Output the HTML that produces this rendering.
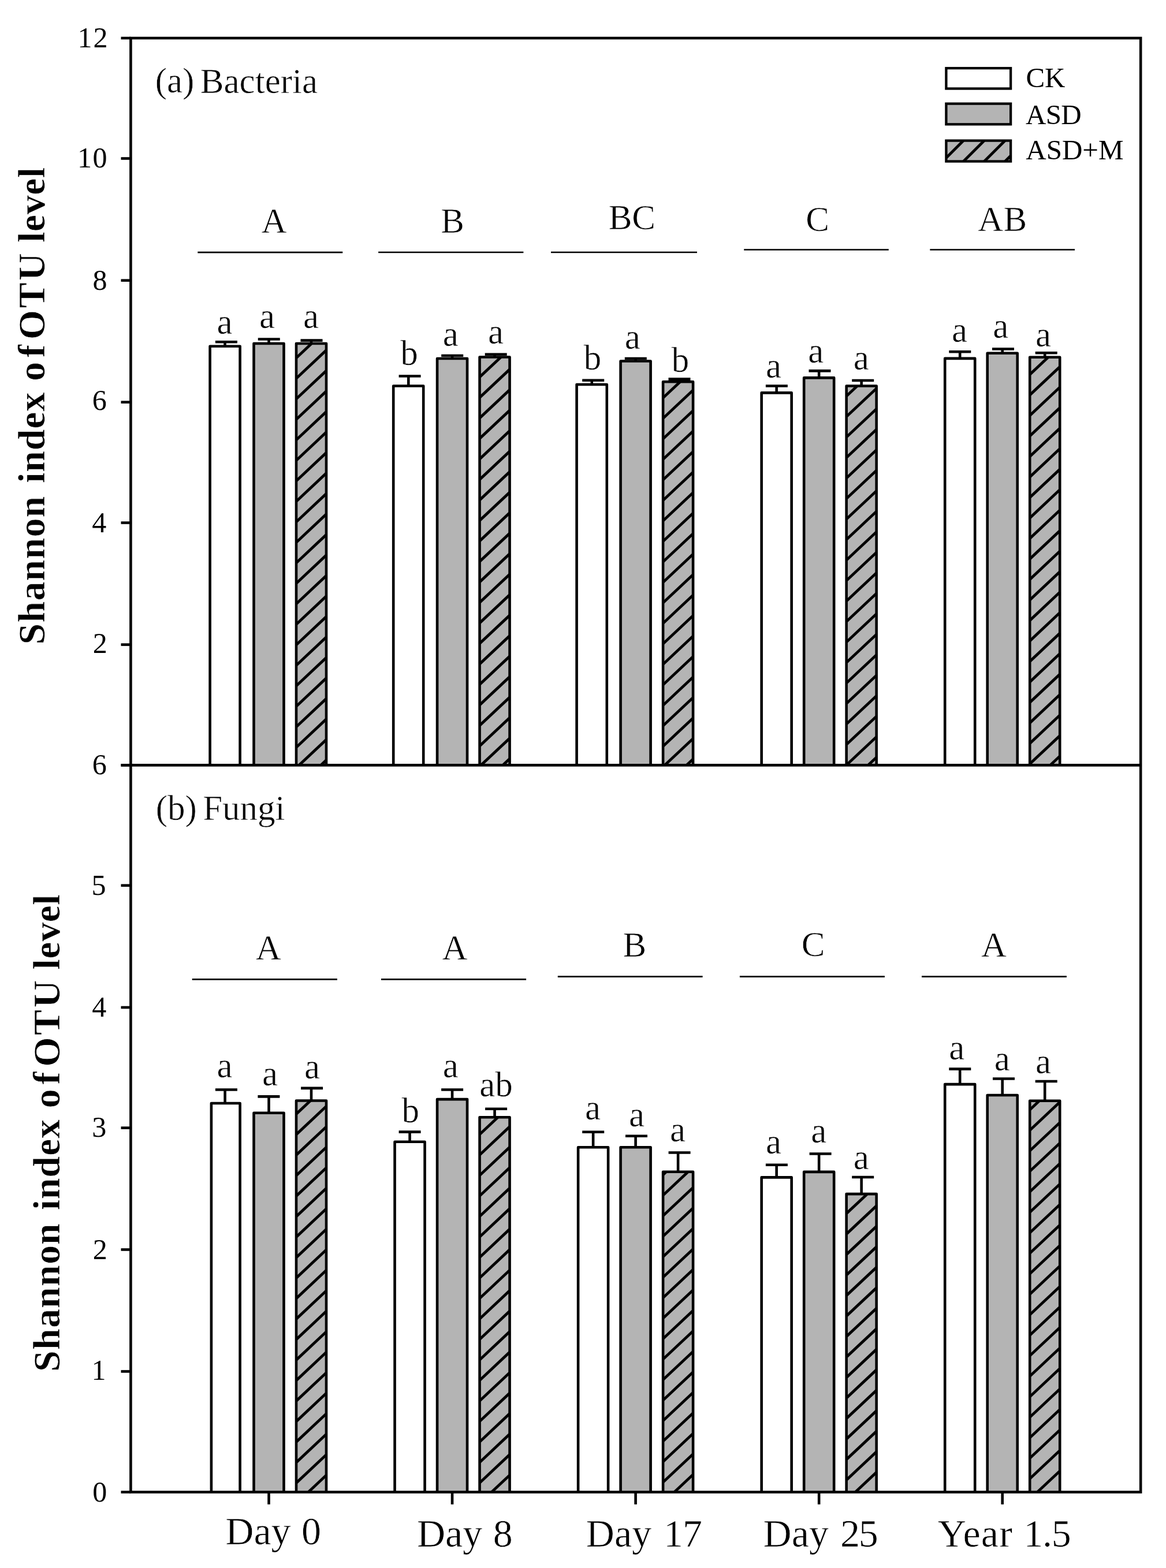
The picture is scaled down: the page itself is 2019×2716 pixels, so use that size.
<!DOCTYPE html>
<html><head><meta charset="utf-8"><title>Shannon index of OTU level</title>
<style>html,body{margin:0;padding:0;background:#fff}svg{display:block}</style></head>
<body><svg width="2019" height="2716" viewBox="0 0 2019 2716" font-family="'Liberation Serif', 'Times New Roman', serif">
<defs><clipPath id="c1"><rect x="513" y="595" width="52" height="730.4"/></clipPath><clipPath id="c2"><rect x="830.55" y="618.5" width="52" height="706.9"/></clipPath><clipPath id="c3"><rect x="1148.1" y="661.3" width="52" height="664.1"/></clipPath><clipPath id="c4"><rect x="1465.65" y="668.5" width="52" height="656.9"/></clipPath><clipPath id="c5"><rect x="1783.2" y="618.8" width="52" height="706.6"/></clipPath><clipPath id="c6"><rect x="513" y="1906.5" width="52" height="678"/></clipPath><clipPath id="c7"><rect x="830.55" y="1935.3" width="52" height="649.2"/></clipPath><clipPath id="c8"><rect x="1148.1" y="2029.8" width="52" height="554.7"/></clipPath><clipPath id="c9"><rect x="1465.65" y="2068.1" width="52" height="516.4"/></clipPath><clipPath id="c10"><rect x="1783.2" y="1906.8" width="52" height="677.7"/></clipPath><clipPath id="c11"><rect x="1638.4" y="243.6" width="111.7" height="35.9"/></clipPath></defs>
<rect width="2019" height="2716" fill="#fff"/>
<path d="M363.6 1325.4V599.7H415.6V1325.4" fill="#fff" stroke="#000" stroke-width="4.6" stroke-linejoin="round"/>
<line x1="389.5" y1="599.7" x2="389.5" y2="592.2" stroke="#000" stroke-width="4.6"/>
<line x1="372.9" y1="592.2" x2="410.9" y2="592.2" stroke="#000" stroke-width="4.6"/>
<path d="M439.5 1325.4V595H491.5V1325.4" fill="#b4b4b4" stroke="#000" stroke-width="4.6" stroke-linejoin="round"/>
<line x1="465.5" y1="595" x2="465.5" y2="587.5" stroke="#000" stroke-width="4.6"/>
<line x1="446.75" y1="587.5" x2="484.75" y2="587.5" stroke="#000" stroke-width="4.6"/>
<g><rect x="513" y="595" width="52" height="730.4" fill="#b4b4b4"/><path d="M-286.72 1335.4L512.43 585M-248.91 1335.4L550.23 585M-211.11 1335.4L588.04 585M-173.3 1335.4L625.85 585M-135.5 1335.4L663.65 585M-97.69 1335.4L701.46 585M-59.88 1335.4L739.26 585M-22.08 1335.4L777.07 585M15.73 1335.4L814.88 585M53.53 1335.4L852.68 585M91.34 1335.4L890.49 585M129.15 1335.4L928.3 585M166.95 1335.4L966.1 585M204.76 1335.4L1003.91 585M242.57 1335.4L1041.71 585M280.37 1335.4L1079.52 585M318.18 1335.4L1117.33 585M355.98 1335.4L1155.13 585M393.79 1335.4L1192.94 585M431.6 1335.4L1230.74 585M469.4 1335.4L1268.55 585M507.21 1335.4L1306.36 585M545.02 1335.4L1344.16 585" stroke="#000" stroke-width="4.8" fill="none" clip-path="url(#c1)"/></g>
<path d="M513 1325.4V595H565V1325.4" fill="none" stroke="#000" stroke-width="4.6" stroke-linejoin="round"/>
<line x1="539" y1="595" x2="539" y2="589.6" stroke="#000" stroke-width="4.6"/>
<line x1="520.5" y1="589.6" x2="558.5" y2="589.6" stroke="#000" stroke-width="4.6"/>
<path d="M681.2 1325.4V668.5H733.2V1325.4" fill="#fff" stroke="#000" stroke-width="4.6" stroke-linejoin="round"/>
<line x1="707.3" y1="668.5" x2="707.3" y2="651.5" stroke="#000" stroke-width="4.6"/>
<line x1="690.6" y1="651.5" x2="728.6" y2="651.5" stroke="#000" stroke-width="4.6"/>
<path d="M757.05 1325.4V621H809.05V1325.4" fill="#b4b4b4" stroke="#000" stroke-width="4.6" stroke-linejoin="round"/>
<line x1="783.05" y1="621" x2="783.05" y2="616" stroke="#000" stroke-width="4.6"/>
<line x1="764.2" y1="616" x2="802.2" y2="616" stroke="#000" stroke-width="4.6"/>
<g><rect x="830.55" y="618.5" width="52" height="706.9" fill="#b4b4b4"/><path d="M28.33 1335.4L802.45 608.5M66.14 1335.4L840.26 608.5M103.94 1335.4L878.06 608.5M141.75 1335.4L915.87 608.5M179.55 1335.4L953.68 608.5M217.36 1335.4L991.48 608.5M255.17 1335.4L1029.29 608.5M292.97 1335.4L1067.09 608.5M330.78 1335.4L1104.9 608.5M368.59 1335.4L1142.71 608.5M406.39 1335.4L1180.51 608.5M444.2 1335.4L1218.32 608.5M482 1335.4L1256.13 608.5M519.81 1335.4L1293.93 608.5M557.62 1335.4L1331.74 608.5M595.42 1335.4L1369.54 608.5M633.23 1335.4L1407.35 608.5M671.03 1335.4L1445.16 608.5M708.84 1335.4L1482.96 608.5M746.65 1335.4L1520.77 608.5M784.45 1335.4L1558.57 608.5M822.26 1335.4L1596.38 608.5M860.07 1335.4L1634.19 608.5" stroke="#000" stroke-width="4.8" fill="none" clip-path="url(#c2)"/></g>
<path d="M830.55 1325.4V618.5H882.55V1325.4" fill="none" stroke="#000" stroke-width="4.6" stroke-linejoin="round"/>
<line x1="856.55" y1="618.5" x2="856.55" y2="613.7" stroke="#000" stroke-width="4.6"/>
<line x1="839.7" y1="613.7" x2="877.7" y2="613.7" stroke="#000" stroke-width="4.6"/>
<path d="M998.6 1325.4V666H1050.8V1325.4" fill="#fff" stroke="#000" stroke-width="4.6" stroke-linejoin="round"/>
<line x1="1024.8" y1="666" x2="1024.8" y2="658.7" stroke="#000" stroke-width="4.6"/>
<line x1="1008.2" y1="658.7" x2="1046.2" y2="658.7" stroke="#000" stroke-width="4.6"/>
<path d="M1074.6 1325.4V625.5H1126.6V1325.4" fill="#b4b4b4" stroke="#000" stroke-width="4.6" stroke-linejoin="round"/>
<line x1="1100.6" y1="625.5" x2="1100.6" y2="621" stroke="#000" stroke-width="4.6"/>
<line x1="1081.8" y1="621" x2="1119.8" y2="621" stroke="#000" stroke-width="4.6"/>
<g><rect x="1148.1" y="661.3" width="52" height="664.1" fill="#b4b4b4"/><path d="M384.26 1335.4L1112.8 651.3M422.07 1335.4L1150.61 651.3M459.87 1335.4L1188.42 651.3M497.68 1335.4L1226.22 651.3M535.49 1335.4L1264.03 651.3M573.29 1335.4L1301.83 651.3M611.1 1335.4L1339.64 651.3M648.91 1335.4L1377.45 651.3M686.71 1335.4L1415.25 651.3M724.52 1335.4L1453.06 651.3M762.32 1335.4L1490.86 651.3M800.13 1335.4L1528.67 651.3M837.94 1335.4L1566.48 651.3M875.74 1335.4L1604.28 651.3M913.55 1335.4L1642.09 651.3M951.35 1335.4L1679.9 651.3M989.16 1335.4L1717.7 651.3M1026.97 1335.4L1755.51 651.3M1064.77 1335.4L1793.31 651.3M1102.58 1335.4L1831.12 651.3M1140.39 1335.4L1868.93 651.3M1178.19 1335.4L1906.73 651.3" stroke="#000" stroke-width="4.8" fill="none" clip-path="url(#c3)"/></g>
<path d="M1148.1 1325.4V661.3H1200.1V1325.4" fill="none" stroke="#000" stroke-width="4.6" stroke-linejoin="round"/>
<line x1="1174.1" y1="661.3" x2="1174.1" y2="656.6" stroke="#000" stroke-width="4.6"/>
<line x1="1157.5" y1="656.6" x2="1195.5" y2="656.6" stroke="#000" stroke-width="4.6"/>
<path d="M1318.65 1325.4V680.4H1370.65V1325.4" fill="#fff" stroke="#000" stroke-width="4.6" stroke-linejoin="round"/>
<line x1="1344.65" y1="680.4" x2="1344.65" y2="668.5" stroke="#000" stroke-width="4.6"/>
<line x1="1325.9" y1="668.5" x2="1363.9" y2="668.5" stroke="#000" stroke-width="4.6"/>
<path d="M1392.15 1325.4V654.4H1444.15V1325.4" fill="#b4b4b4" stroke="#000" stroke-width="4.6" stroke-linejoin="round"/>
<line x1="1418.15" y1="654.4" x2="1418.15" y2="642.4" stroke="#000" stroke-width="4.6"/>
<line x1="1400.5" y1="642.4" x2="1438.5" y2="642.4" stroke="#000" stroke-width="4.6"/>
<g><rect x="1465.65" y="668.5" width="52" height="656.9" fill="#b4b4b4"/><path d="M736.39 1335.4L1457.27 658.5M774.2 1335.4L1495.07 658.5M812.01 1335.4L1532.88 658.5M849.81 1335.4L1570.68 658.5M887.62 1335.4L1608.49 658.5M925.42 1335.4L1646.3 658.5M963.23 1335.4L1684.1 658.5M1001.04 1335.4L1721.91 658.5M1038.84 1335.4L1759.72 658.5M1076.65 1335.4L1797.52 658.5M1114.45 1335.4L1835.33 658.5M1152.26 1335.4L1873.13 658.5M1190.07 1335.4L1910.94 658.5M1227.87 1335.4L1948.75 658.5M1265.68 1335.4L1986.55 658.5M1303.49 1335.4L2024.36 658.5M1341.29 1335.4L2062.16 658.5M1379.1 1335.4L2099.97 658.5M1416.9 1335.4L2137.78 658.5M1454.71 1335.4L2175.58 658.5M1492.52 1335.4L2213.39 658.5" stroke="#000" stroke-width="4.8" fill="none" clip-path="url(#c4)"/></g>
<path d="M1465.65 1325.4V668.5H1517.65V1325.4" fill="none" stroke="#000" stroke-width="4.6" stroke-linejoin="round"/>
<line x1="1491.65" y1="668.5" x2="1491.65" y2="659" stroke="#000" stroke-width="4.6"/>
<line x1="1475.2" y1="659" x2="1513.2" y2="659" stroke="#000" stroke-width="4.6"/>
<path d="M1636.2 1325.4V620.9H1688.2V1325.4" fill="#fff" stroke="#000" stroke-width="4.6" stroke-linejoin="round"/>
<line x1="1662.2" y1="620.9" x2="1662.2" y2="609.2" stroke="#000" stroke-width="4.6"/>
<line x1="1643.3" y1="609.2" x2="1681.3" y2="609.2" stroke="#000" stroke-width="4.6"/>
<path d="M1709.7 1325.4V611.8H1761.7V1325.4" fill="#b4b4b4" stroke="#000" stroke-width="4.6" stroke-linejoin="round"/>
<line x1="1735.7" y1="611.8" x2="1735.7" y2="604.5" stroke="#000" stroke-width="4.6"/>
<line x1="1718" y1="604.5" x2="1756" y2="604.5" stroke="#000" stroke-width="4.6"/>
<g><rect x="1783.2" y="618.8" width="52" height="706.6" fill="#b4b4b4"/><path d="M976.24 1335.4L1750.04 608.8M1014.04 1335.4L1787.85 608.8M1051.85 1335.4L1825.65 608.8M1089.66 1335.4L1863.46 608.8M1127.46 1335.4L1901.26 608.8M1165.27 1335.4L1939.07 608.8M1203.07 1335.4L1976.88 608.8M1240.88 1335.4L2014.68 608.8M1278.69 1335.4L2052.49 608.8M1316.49 1335.4L2090.29 608.8M1354.3 1335.4L2128.1 608.8M1392.11 1335.4L2165.91 608.8M1429.91 1335.4L2203.71 608.8M1467.72 1335.4L2241.52 608.8M1505.52 1335.4L2279.33 608.8M1543.33 1335.4L2317.13 608.8M1581.14 1335.4L2354.94 608.8M1618.94 1335.4L2392.74 608.8M1656.75 1335.4L2430.55 608.8M1694.55 1335.4L2468.36 608.8M1732.36 1335.4L2506.16 608.8M1770.17 1335.4L2543.97 608.8M1807.97 1335.4L2581.78 608.8" stroke="#000" stroke-width="4.8" fill="none" clip-path="url(#c5)"/></g>
<path d="M1783.2 1325.4V618.8H1835.2V1325.4" fill="none" stroke="#000" stroke-width="4.6" stroke-linejoin="round"/>
<line x1="1809.2" y1="618.8" x2="1809.2" y2="611.3" stroke="#000" stroke-width="4.6"/>
<line x1="1792.7" y1="611.3" x2="1830.7" y2="611.3" stroke="#000" stroke-width="4.6"/>
<path d="M365.9 2584.5V1911H415.6V2584.5" fill="#fff" stroke="#000" stroke-width="4.6" stroke-linejoin="round"/>
<line x1="389.6" y1="1911" x2="389.6" y2="1887.5" stroke="#000" stroke-width="4.6"/>
<line x1="372.9" y1="1887.5" x2="410.9" y2="1887.5" stroke="#000" stroke-width="4.6"/>
<path d="M439.5 2584.5V1927.7H491.5V2584.5" fill="#b4b4b4" stroke="#000" stroke-width="4.6" stroke-linejoin="round"/>
<line x1="465.5" y1="1927.7" x2="465.5" y2="1899.4" stroke="#000" stroke-width="4.6"/>
<line x1="446.4" y1="1899.4" x2="484.4" y2="1899.4" stroke="#000" stroke-width="4.6"/>
<g><rect x="513" y="1906.5" width="52" height="678" fill="#b4b4b4"/><path d="M-232.85 2594.5L510.5 1896.5M-195.04 2594.5L548.3 1896.5M-157.23 2594.5L586.11 1896.5M-119.43 2594.5L623.92 1896.5M-81.62 2594.5L661.72 1896.5M-43.82 2594.5L699.53 1896.5M-6.01 2594.5L737.33 1896.5M31.8 2594.5L775.14 1896.5M69.6 2594.5L812.95 1896.5M107.41 2594.5L850.75 1896.5M145.22 2594.5L888.56 1896.5M183.02 2594.5L926.37 1896.5M220.83 2594.5L964.17 1896.5M258.63 2594.5L1001.98 1896.5M296.44 2594.5L1039.78 1896.5M334.25 2594.5L1077.59 1896.5M372.05 2594.5L1115.4 1896.5M409.86 2594.5L1153.2 1896.5M447.66 2594.5L1191.01 1896.5M485.47 2594.5L1228.81 1896.5M523.28 2594.5L1266.62 1896.5M561.08 2594.5L1304.43 1896.5" stroke="#000" stroke-width="4.8" fill="none" clip-path="url(#c6)"/></g>
<path d="M513 2584.5V1906.5H565V2584.5" fill="none" stroke="#000" stroke-width="4.6" stroke-linejoin="round"/>
<line x1="539" y1="1906.5" x2="539" y2="1884.9" stroke="#000" stroke-width="4.6"/>
<line x1="521.1" y1="1884.9" x2="559.1" y2="1884.9" stroke="#000" stroke-width="4.6"/>
<path d="M683.55 2584.5V1977.8H735.55V2584.5" fill="#fff" stroke="#000" stroke-width="4.6" stroke-linejoin="round"/>
<line x1="709.55" y1="1977.8" x2="709.55" y2="1960.6" stroke="#000" stroke-width="4.6"/>
<line x1="690.6" y1="1960.6" x2="728.6" y2="1960.6" stroke="#000" stroke-width="4.6"/>
<path d="M757.05 2584.5V1904.1H809.05V2584.5" fill="#b4b4b4" stroke="#000" stroke-width="4.6" stroke-linejoin="round"/>
<line x1="783.05" y1="1904.1" x2="783.05" y2="1887.5" stroke="#000" stroke-width="4.6"/>
<line x1="764.1" y1="1887.5" x2="802.1" y2="1887.5" stroke="#000" stroke-width="4.6"/>
<g><rect x="830.55" y="1935.3" width="52" height="649.2" fill="#b4b4b4"/><path d="M84.45 2594.5L797.13 1925.3M122.26 2594.5L834.93 1925.3M160.07 2594.5L872.74 1925.3M197.87 2594.5L910.54 1925.3M235.68 2594.5L948.35 1925.3M273.48 2594.5L986.16 1925.3M311.29 2594.5L1023.96 1925.3M349.1 2594.5L1061.77 1925.3M386.9 2594.5L1099.58 1925.3M424.71 2594.5L1137.38 1925.3M462.52 2594.5L1175.19 1925.3M500.32 2594.5L1212.99 1925.3M538.13 2594.5L1250.8 1925.3M575.93 2594.5L1288.61 1925.3M613.74 2594.5L1326.41 1925.3M651.55 2594.5L1364.22 1925.3M689.35 2594.5L1402.03 1925.3M727.16 2594.5L1439.83 1925.3M764.96 2594.5L1477.64 1925.3M802.77 2594.5L1515.44 1925.3M840.58 2594.5L1553.25 1925.3M878.38 2594.5L1591.06 1925.3" stroke="#000" stroke-width="4.8" fill="none" clip-path="url(#c7)"/></g>
<path d="M830.55 2584.5V1935.3H882.55V2584.5" fill="none" stroke="#000" stroke-width="4.6" stroke-linejoin="round"/>
<line x1="856.55" y1="1935.3" x2="856.55" y2="1920.7" stroke="#000" stroke-width="4.6"/>
<line x1="840.1" y1="1920.7" x2="878.1" y2="1920.7" stroke="#000" stroke-width="4.6"/>
<path d="M1001.1 2584.5V1987.2H1053.1V2584.5" fill="#fff" stroke="#000" stroke-width="4.6" stroke-linejoin="round"/>
<line x1="1027.1" y1="1987.2" x2="1027.1" y2="1960.7" stroke="#000" stroke-width="4.6"/>
<line x1="1008.2" y1="1960.7" x2="1046.2" y2="1960.7" stroke="#000" stroke-width="4.6"/>
<path d="M1074.6 2584.5V1987.2H1126.6V2584.5" fill="#b4b4b4" stroke="#000" stroke-width="4.6" stroke-linejoin="round"/>
<line x1="1100.6" y1="1987.2" x2="1100.6" y2="1967.8" stroke="#000" stroke-width="4.6"/>
<line x1="1083" y1="1967.8" x2="1121" y2="1967.8" stroke="#000" stroke-width="4.6"/>
<g><rect x="1148.1" y="2029.8" width="52" height="554.7" fill="#b4b4b4"/><path d="M514.38 2594.5L1126.42 2019.8M552.19 2594.5L1164.22 2019.8M590 2594.5L1202.03 2019.8M627.8 2594.5L1239.84 2019.8M665.61 2594.5L1277.64 2019.8M703.41 2594.5L1315.45 2019.8M741.22 2594.5L1353.25 2019.8M779.03 2594.5L1391.06 2019.8M816.83 2594.5L1428.87 2019.8M854.64 2594.5L1466.67 2019.8M892.44 2594.5L1504.48 2019.8M930.25 2594.5L1542.28 2019.8M968.06 2594.5L1580.09 2019.8M1005.86 2594.5L1617.9 2019.8M1043.67 2594.5L1655.7 2019.8M1081.48 2594.5L1693.51 2019.8M1119.28 2594.5L1731.32 2019.8M1157.09 2594.5L1769.12 2019.8M1194.89 2594.5L1806.93 2019.8" stroke="#000" stroke-width="4.8" fill="none" clip-path="url(#c8)"/></g>
<path d="M1148.1 2584.5V2029.8H1200.1V2584.5" fill="none" stroke="#000" stroke-width="4.6" stroke-linejoin="round"/>
<line x1="1174.1" y1="2029.8" x2="1174.1" y2="1996.5" stroke="#000" stroke-width="4.6"/>
<line x1="1157.6" y1="1996.5" x2="1195.6" y2="1996.5" stroke="#000" stroke-width="4.6"/>
<path d="M1318.65 2584.5V2039.4H1370.65V2584.5" fill="#fff" stroke="#000" stroke-width="4.6" stroke-linejoin="round"/>
<line x1="1344.65" y1="2039.4" x2="1344.65" y2="2017.8" stroke="#000" stroke-width="4.6"/>
<line x1="1325.9" y1="2017.8" x2="1363.9" y2="2017.8" stroke="#000" stroke-width="4.6"/>
<path d="M1392.15 2584.5V2029.9H1444.15V2584.5" fill="#b4b4b4" stroke="#000" stroke-width="4.6" stroke-linejoin="round"/>
<line x1="1418.15" y1="2029.9" x2="1418.15" y2="1998.5" stroke="#000" stroke-width="4.6"/>
<line x1="1401.6" y1="1998.5" x2="1439.6" y2="1998.5" stroke="#000" stroke-width="4.6"/>
<g><rect x="1465.65" y="2068.1" width="52" height="516.4" fill="#b4b4b4"/><path d="M865.56 2594.5L1436.81 2058.1M903.37 2594.5L1474.61 2058.1M941.17 2594.5L1512.42 2058.1M978.98 2594.5L1550.22 2058.1M1016.78 2594.5L1588.03 2058.1M1054.59 2594.5L1625.84 2058.1M1092.4 2594.5L1663.64 2058.1M1130.2 2594.5L1701.45 2058.1M1168.01 2594.5L1739.26 2058.1M1205.82 2594.5L1777.06 2058.1M1243.62 2594.5L1814.87 2058.1M1281.43 2594.5L1852.67 2058.1M1319.23 2594.5L1890.48 2058.1M1357.04 2594.5L1928.29 2058.1M1394.85 2594.5L1966.09 2058.1M1432.65 2594.5L2003.9 2058.1M1470.46 2594.5L2041.7 2058.1M1508.26 2594.5L2079.51 2058.1" stroke="#000" stroke-width="4.8" fill="none" clip-path="url(#c9)"/></g>
<path d="M1465.65 2584.5V2068.1H1517.65V2584.5" fill="none" stroke="#000" stroke-width="4.6" stroke-linejoin="round"/>
<line x1="1491.65" y1="2068.1" x2="1491.65" y2="2039" stroke="#000" stroke-width="4.6"/>
<line x1="1475.2" y1="2039" x2="1513.2" y2="2039" stroke="#000" stroke-width="4.6"/>
<path d="M1636.2 2584.5V1878.1H1688.2V2584.5" fill="#fff" stroke="#000" stroke-width="4.6" stroke-linejoin="round"/>
<line x1="1662.2" y1="1878.1" x2="1662.2" y2="1851.6" stroke="#000" stroke-width="4.6"/>
<line x1="1643.3" y1="1851.6" x2="1681.3" y2="1851.6" stroke="#000" stroke-width="4.6"/>
<path d="M1709.7 2584.5V1897H1761.7V2584.5" fill="#b4b4b4" stroke="#000" stroke-width="4.6" stroke-linejoin="round"/>
<line x1="1735.7" y1="1897" x2="1735.7" y2="1868.5" stroke="#000" stroke-width="4.6"/>
<line x1="1719" y1="1868.5" x2="1757" y2="1868.5" stroke="#000" stroke-width="4.6"/>
<g><rect x="1783.2" y="1906.8" width="52" height="677.7" fill="#b4b4b4"/><path d="M1029.49 2594.5L1772.51 1896.8M1067.29 2594.5L1810.32 1896.8M1105.1 2594.5L1848.12 1896.8M1142.9 2594.5L1885.93 1896.8M1180.71 2594.5L1923.73 1896.8M1218.52 2594.5L1961.54 1896.8M1256.32 2594.5L1999.35 1896.8M1294.13 2594.5L2037.15 1896.8M1331.94 2594.5L2074.96 1896.8M1369.74 2594.5L2112.77 1896.8M1407.55 2594.5L2150.57 1896.8M1445.35 2594.5L2188.38 1896.8M1483.16 2594.5L2226.18 1896.8M1520.97 2594.5L2263.99 1896.8M1558.77 2594.5L2301.8 1896.8M1596.58 2594.5L2339.6 1896.8M1634.38 2594.5L2377.41 1896.8M1672.19 2594.5L2415.22 1896.8M1710 2594.5L2453.02 1896.8M1747.8 2594.5L2490.83 1896.8M1785.61 2594.5L2528.63 1896.8M1823.42 2594.5L2566.44 1896.8" stroke="#000" stroke-width="4.8" fill="none" clip-path="url(#c10)"/></g>
<path d="M1783.2 2584.5V1906.8H1835.2V2584.5" fill="none" stroke="#000" stroke-width="4.6" stroke-linejoin="round"/>
<line x1="1809.2" y1="1906.8" x2="1809.2" y2="1873" stroke="#000" stroke-width="4.6"/>
<line x1="1792.7" y1="1873" x2="1830.7" y2="1873" stroke="#000" stroke-width="4.6"/>
<rect x="226.4" y="66" width="1748.75" height="2518.5" fill="none" stroke="#000" stroke-width="4.6"/>
<line x1="226.4" y1="1325.4" x2="1975.15" y2="1325.4" stroke="#000" stroke-width="4.6"/>
<line x1="209.5" y1="66" x2="226.4" y2="66" stroke="#000" stroke-width="4.6"/>
<line x1="209.5" y1="274.5" x2="226.4" y2="274.5" stroke="#000" stroke-width="4.6"/>
<line x1="209.5" y1="485.7" x2="226.4" y2="485.7" stroke="#000" stroke-width="4.6"/>
<line x1="209.5" y1="696.6" x2="226.4" y2="696.6" stroke="#000" stroke-width="4.6"/>
<line x1="209.5" y1="905.5" x2="226.4" y2="905.5" stroke="#000" stroke-width="4.6"/>
<line x1="209.5" y1="1116.6" x2="226.4" y2="1116.6" stroke="#000" stroke-width="4.6"/>
<line x1="209.5" y1="1325.4" x2="226.4" y2="1325.4" stroke="#000" stroke-width="4.6"/>
<line x1="209.5" y1="1325.4" x2="226.4" y2="1325.4" stroke="#000" stroke-width="4.6"/>
<line x1="209.5" y1="1533.7" x2="226.4" y2="1533.7" stroke="#000" stroke-width="4.6"/>
<line x1="209.5" y1="1745" x2="226.4" y2="1745" stroke="#000" stroke-width="4.6"/>
<line x1="209.5" y1="1953.6" x2="226.4" y2="1953.6" stroke="#000" stroke-width="4.6"/>
<line x1="209.5" y1="2164.5" x2="226.4" y2="2164.5" stroke="#000" stroke-width="4.6"/>
<line x1="209.5" y1="2375.5" x2="226.4" y2="2375.5" stroke="#000" stroke-width="4.6"/>
<line x1="209.5" y1="2584.5" x2="226.4" y2="2584.5" stroke="#000" stroke-width="4.6"/>
<line x1="465.5" y1="2584.5" x2="465.5" y2="2605.8" stroke="#000" stroke-width="4.6"/>
<line x1="783.05" y1="2584.5" x2="783.05" y2="2605.8" stroke="#000" stroke-width="4.6"/>
<line x1="1100.6" y1="2584.5" x2="1100.6" y2="2605.8" stroke="#000" stroke-width="4.6"/>
<line x1="1418.15" y1="2584.5" x2="1418.15" y2="2605.8" stroke="#000" stroke-width="4.6"/>
<line x1="1735.7" y1="2584.5" x2="1735.7" y2="2605.8" stroke="#000" stroke-width="4.6"/>
<line x1="342.3" y1="437.2" x2="593.3" y2="437.2" stroke="#000" stroke-width="2.7"/>
<line x1="655.1" y1="437" x2="906.4" y2="437" stroke="#000" stroke-width="2.7"/>
<line x1="954" y1="437" x2="1207" y2="437" stroke="#000" stroke-width="2.7"/>
<line x1="1288.2" y1="432.5" x2="1538.8" y2="432.5" stroke="#000" stroke-width="2.7"/>
<line x1="1610.3" y1="432.5" x2="1861.1" y2="432.5" stroke="#000" stroke-width="2.7"/>
<line x1="332.7" y1="1696.3" x2="583.9" y2="1696.3" stroke="#000" stroke-width="2.7"/>
<line x1="660" y1="1696.3" x2="911.1" y2="1696.3" stroke="#000" stroke-width="2.7"/>
<line x1="965.8" y1="1691.7" x2="1216.6" y2="1691.7" stroke="#000" stroke-width="2.7"/>
<line x1="1280.9" y1="1691.7" x2="1531.9" y2="1691.7" stroke="#000" stroke-width="2.7"/>
<line x1="1596" y1="1691.7" x2="1846.9" y2="1691.7" stroke="#000" stroke-width="2.7"/>
<rect x="1638.4" y="118.1" width="111.7" height="35.4" fill="#fff" stroke="#000" stroke-width="4.3"/>
<rect x="1638.4" y="179.6" width="111.7" height="35.7" fill="#b4b4b4" stroke="#000" stroke-width="4.3"/>
<g><rect x="1638.4" y="243.6" width="111.7" height="35.9" fill="#b4b4b4"/><path d="M1550.3 289.5L1606.2 233.6M1586.3 289.5L1642.2 233.6M1622.3 289.5L1678.2 233.6M1658.3 289.5L1714.2 233.6M1694.3 289.5L1750.2 233.6M1730.3 289.5L1786.2 233.6" stroke="#000" stroke-width="4.8" fill="none" clip-path="url(#c11)"/></g>
<rect x="1638.4" y="243.6" width="111.7" height="35.9" fill="none" stroke="#000" stroke-width="4.3"/>
<text x="375.6" y="577.85" font-size="61" stroke="#fff" stroke-width="0.6">a</text>
<text x="449" y="568.4" font-size="61" stroke="#fff" stroke-width="0.6">a</text>
<text x="525" y="568.4" font-size="61" stroke="#fff" stroke-width="0.6">a</text>
<text x="693.2" y="632.35" font-size="61" stroke="#fff" stroke-width="0.6">b</text>
<text x="766.65" y="599.4" font-size="61" stroke="#fff" stroke-width="0.6">a</text>
<text x="845" y="594.55" font-size="61" stroke="#fff" stroke-width="0.6">a</text>
<text x="1010.85" y="639.55" font-size="61" stroke="#fff" stroke-width="0.6">b</text>
<text x="1081.85" y="604.05" font-size="61" stroke="#fff" stroke-width="0.6">a</text>
<text x="1162.75" y="644.45" font-size="61" stroke="#fff" stroke-width="0.6">b</text>
<text x="1325.95" y="653.8" font-size="61" stroke="#fff" stroke-width="0.6">a</text>
<text x="1399.3" y="627.65" font-size="61" stroke="#fff" stroke-width="0.6">a</text>
<text x="1477.75" y="639.6" font-size="61" stroke="#fff" stroke-width="0.6">a</text>
<text x="1647.95" y="592.3" font-size="61" stroke="#fff" stroke-width="0.6">a</text>
<text x="1719.3" y="585.2" font-size="61" stroke="#fff" stroke-width="0.6">a</text>
<text x="1793.05" y="599.65" font-size="61" stroke="#fff" stroke-width="0.6">a</text>
<text x="375.6" y="1865.5" font-size="61" stroke="#fff" stroke-width="0.6">a</text>
<text x="454.05" y="1880" font-size="61" stroke="#fff" stroke-width="0.6">a</text>
<text x="527.1" y="1868.2" font-size="61" stroke="#fff" stroke-width="0.6">a</text>
<text x="695.55" y="1943.6" font-size="61" stroke="#fff" stroke-width="0.6">b</text>
<text x="766.65" y="1865.5" font-size="61" stroke="#fff" stroke-width="0.6">a</text>
<text x="830.3" y="1898.8" font-size="61" stroke="#fff" stroke-width="0.6">ab</text>
<text x="1012.95" y="1939.35" font-size="61" stroke="#fff" stroke-width="0.6">a</text>
<text x="1089" y="1951.2" font-size="61" stroke="#fff" stroke-width="0.6">a</text>
<text x="1160" y="1977.1" font-size="61" stroke="#fff" stroke-width="0.6">a</text>
<text x="1325.95" y="1998.45" font-size="61" stroke="#fff" stroke-width="0.6">a</text>
<text x="1404.25" y="1979.35" font-size="61" stroke="#fff" stroke-width="0.6">a</text>
<text x="1477.75" y="2024.6" font-size="61" stroke="#fff" stroke-width="0.6">a</text>
<text x="1643.3" y="1835" font-size="61" stroke="#fff" stroke-width="0.6">a</text>
<text x="1721.85" y="1853.9" font-size="61" stroke="#fff" stroke-width="0.6">a</text>
<text x="1793.05" y="1858.6" font-size="61" stroke="#fff" stroke-width="0.6">a</text>
<text x="452.6" y="402.5" font-size="61" textLength="43.26" lengthAdjust="spacing" stroke="#fff" stroke-width="0.6">A</text>
<text x="763.2" y="402.6" font-size="61" textLength="37.89" lengthAdjust="spacing" stroke="#fff" stroke-width="0.6">B</text>
<text x="1053.65" y="397.2" font-size="61" stroke="#fff" stroke-width="0.6">BC</text>
<text x="1395.15" y="399.65" font-size="61" stroke="#fff" stroke-width="0.6">C</text>
<text x="1693.35" y="400.15" font-size="61" stroke="#fff" stroke-width="0.6">AB</text>
<text x="442.85" y="1661.8" font-size="61" stroke="#fff" stroke-width="0.6">A</text>
<text x="765.4" y="1661.8" font-size="61" stroke="#fff" stroke-width="0.6">A</text>
<text x="1078.45" y="1656.6" font-size="61" textLength="38.59" lengthAdjust="spacing" stroke="#fff" stroke-width="0.6">B</text>
<text x="1387.65" y="1656.45" font-size="61" textLength="41.99" lengthAdjust="spacing" stroke="#fff" stroke-width="0.6">C</text>
<text x="1699.05" y="1656.9" font-size="61" stroke="#fff" stroke-width="0.6">A</text>
<text x="268.65" y="159.9" font-size="61" stroke="#fff" stroke-width="0.6">(a)</text>
<text x="346.85" y="160.8" font-size="61" stroke="#fff" stroke-width="0.6">Bacteria</text>
<text x="269.7" y="1419.5" font-size="61" stroke="#fff" stroke-width="0.6">(b)</text>
<text x="351.2" y="1419.9" font-size="61" stroke="#fff" stroke-width="0.6">Fungi</text>
<text x="390.3" y="2674.6" font-size="68" stroke="#fff" stroke-width="0.6">Day</text>
<text x="521.9" y="2674.6" font-size="68" stroke="#fff" stroke-width="0.6">0</text>
<text x="721.9" y="2678.8" font-size="68" stroke="#fff" stroke-width="0.6">Day</text>
<text x="853.8" y="2678.8" font-size="68" stroke="#fff" stroke-width="0.6">8</text>
<text x="1014.85" y="2679" font-size="68" stroke="#fff" stroke-width="0.6">Day</text>
<text x="1149.1" y="2679" font-size="68" textLength="67" lengthAdjust="spacing" stroke="#fff" stroke-width="0.6">17</text>
<text x="1321.6" y="2679" font-size="68" stroke="#fff" stroke-width="0.6">Day</text>
<text x="1455" y="2679" font-size="68" textLength="65.8" lengthAdjust="spacing" stroke="#fff" stroke-width="0.6">25</text>
<text x="1623.85" y="2679" font-size="68" textLength="129.01" lengthAdjust="spacing" stroke="#fff" stroke-width="0.6">Year</text>
<text x="1772.25" y="2679" font-size="68" textLength="82.5" lengthAdjust="spacing" stroke="#fff" stroke-width="0.6">1.5</text>
<text x="1776.45" y="150.5" font-size="49">CK</text>
<text x="1776.05" y="214.65" font-size="49" textLength="96.53" lengthAdjust="spacing">ASD</text>
<text x="1776.3" y="276.45" font-size="49">ASD+M</text>
<text x="134.4" y="82.25" font-size="50" textLength="52" lengthAdjust="spacing">12</text>
<text x="134" y="290.4" font-size="50" textLength="51.6" lengthAdjust="spacing">10</text>
<text x="160.45" y="501.55" font-size="50">8</text>
<text x="159.85" y="710.45" font-size="50">6</text>
<text x="159.3" y="921.85" font-size="50">4</text>
<text x="160.85" y="1130.55" font-size="50">2</text>
<text x="159.85" y="1340.95" font-size="50">6</text>
<text x="158.55" y="1549.7" font-size="50">5</text>
<text x="159.3" y="1761.25" font-size="50">4</text>
<text x="159.15" y="1969.45" font-size="50">3</text>
<text x="160.85" y="2181" font-size="50">2</text>
<text x="158.55" y="2389.65" font-size="50">1</text>
<text x="160.35" y="2600.55" font-size="50">0</text>
<text x="76.7" y="419.95" font-size="66" font-weight="bold" textLength="130.17" lengthAdjust="spacing" transform="rotate(-90 76.7 419.95)" stroke="#fff" stroke-width="0.6">level</text>
<text x="76.7" y="588.3" font-size="66" font-weight="bold" textLength="150.03" lengthAdjust="spacing" transform="rotate(-90 76.7 588.3)" stroke="#fff" stroke-width="0.6">OTU</text>
<text x="76.7" y="660.1" font-size="66" font-weight="bold" textLength="62.98" lengthAdjust="spacing" transform="rotate(-90 76.7 660.1)" stroke="#fff" stroke-width="0.6">of</text>
<text x="76.7" y="836.85" font-size="66" font-weight="bold" textLength="157.35" lengthAdjust="spacing" transform="rotate(-90 76.7 836.85)" stroke="#fff" stroke-width="0.6">index</text>
<text x="76.7" y="1116.4" font-size="66" font-weight="bold" textLength="256.73" lengthAdjust="spacing" transform="rotate(-90 76.7 1116.4)" stroke="#fff" stroke-width="0.6">Shannon</text>
<text x="103" y="1679.45" font-size="66" font-weight="bold" textLength="130.17" lengthAdjust="spacing" transform="rotate(-90 103 1679.45)" stroke="#fff" stroke-width="0.6">level</text>
<text x="103" y="1847.8" font-size="66" font-weight="bold" textLength="150.03" lengthAdjust="spacing" transform="rotate(-90 103 1847.8)" stroke="#fff" stroke-width="0.6">OTU</text>
<text x="103" y="1919.6" font-size="66" font-weight="bold" textLength="62.98" lengthAdjust="spacing" transform="rotate(-90 103 1919.6)" stroke="#fff" stroke-width="0.6">of</text>
<text x="103" y="2096.35" font-size="66" font-weight="bold" textLength="157.35" lengthAdjust="spacing" transform="rotate(-90 103 2096.35)" stroke="#fff" stroke-width="0.6">index</text>
<text x="103" y="2375.9" font-size="66" font-weight="bold" textLength="256.73" lengthAdjust="spacing" transform="rotate(-90 103 2375.9)" stroke="#fff" stroke-width="0.6">Shannon</text>
</svg></body></html>
